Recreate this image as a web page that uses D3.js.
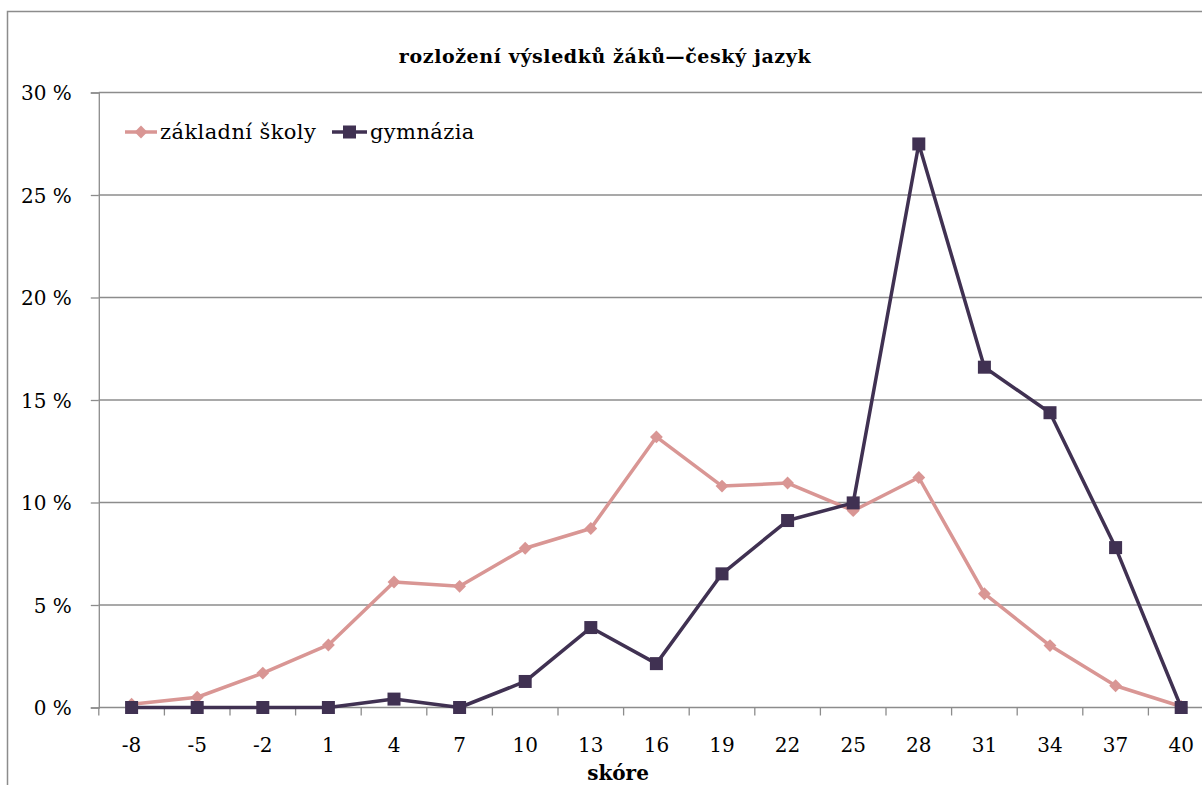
<!DOCTYPE html>
<html>
<head>
<meta charset="utf-8">
<script src="https://cdn.jsdelivr.net/npm/d3@7"></script>
<style>
  html, body { margin: 0; padding: 0; background: #fff; }
  svg { display: block; }
  svg text { font-family: "DejaVu Serif", "Liberation Serif", serif; fill: #000; }
</style>
</head>
<body>
<svg id="chart" width="1202" height="785"></svg>
<script>
// score categories on the x axis
const scores = ["-8", "-5", "-2", "1", "4", "7", "10", "13", "16", "19", "22", "25", "28", "31", "34", "37", "40"];
// share of pupils (%) per score band
const zakladniSkoly = [0.16, 0.5, 1.68, 3.05, 6.12, 5.91, 7.77, 8.73, 13.2, 10.8, 10.95, 9.6, 11.22, 5.55, 3.02, 1.06, 0.05];
const gymnazia = [0, 0, 0, 0, 0.41, 0, 1.27, 3.9, 2.14, 6.52, 9.12, 9.98, 27.49, 16.6, 14.38, 7.8, 0];
const yTicks = [0, 5, 10, 15, 20, 25, 30];

const seriesList = [
  { name: "základní školy", values: zakladniSkoly, color: "#d99694", marker: "diamond" },
  { name: "gymnázia", values: gymnazia, color: "#403152", marker: "square" }
];

const FONT = "'DejaVu Serif', 'Liberation Serif', serif";
const svg = d3.select("#chart");
const axisColor = "#8c8c8c";

// outer chart frame (runs past the right and bottom edges)
svg.append("rect")
  .attr("x", 7.5).attr("y", 11.5)
  .attr("width", 1260).attr("height", 820)
  .attr("fill", "#fff").attr("stroke", axisColor).attr("stroke-width", 1.5);

const plot = { left: 98.8, right: 1214, top: 92.5, bottom: 707.5 };

const x = d3.scaleBand().domain(scores).range([plot.left, plot.right]);
const y = d3.scaleLinear().domain([0, 30]).range([plot.bottom, plot.top]);

// horizontal gridlines
svg.append("g")
  .selectAll("line")
  .data(yTicks.filter(t => t > 0))
  .join("line")
  .attr("x1", plot.left).attr("x2", plot.right)
  .attr("y1", d => y(d)).attr("y2", d => y(d))
  .attr("stroke", axisColor).attr("stroke-width", 1.3);

// y axis
const yAxis = d3.axisLeft(y)
  .tickValues(yTicks)
  .tickSize(8)
  .tickPadding(19)
  .tickFormat(d => d + " %");
const gy = svg.append("g").attr("transform", `translate(${plot.left},0)`).call(yAxis)
  .attr("font-family", FONT).attr("font-size", 20);
gy.select(".domain").attr("stroke", axisColor).attr("stroke-width", 1.3);
gy.selectAll(".tick line").attr("stroke", axisColor).attr("stroke-width", 1.3);
gy.selectAll(".tick text")
  .attr("fill", "#000")
  .style("font-family", FONT)
  .style("font-size", "20px")
  .attr("dy", "0.36em");

// x axis: tick marks at band boundaries, labels at band centers
svg.append("line")
  .attr("x1", plot.left).attr("x2", plot.right)
  .attr("y1", plot.bottom).attr("y2", plot.bottom)
  .attr("stroke", axisColor).attr("stroke-width", 1.3);
svg.append("g")
  .selectAll("line")
  .data(scores.concat(["__end"]))
  .join("line")
  .attr("x1", (d, i) => plot.left + i * x.step())
  .attr("x2", (d, i) => plot.left + i * x.step())
  .attr("y1", plot.bottom).attr("y2", plot.bottom + 8)
  .attr("stroke", axisColor).attr("stroke-width", 1.3);
svg.append("g")
  .selectAll("text")
  .data(scores)
  .join("text")
  .attr("x", d => x(d) + x.bandwidth() / 2)
  .attr("y", 752)
  .attr("text-anchor", "middle")
  .style("font-family", FONT)
  .style("font-size", "20px")
  .text(d => d);

// axis title
svg.append("text")
  .attr("x", 618).attr("y", 780)
  .attr("text-anchor", "middle")
  .style("font-family", FONT)
  .style("font-size", "20px").style("font-weight", "bold")
  .text("skóre");

// chart title
svg.append("text")
  .attr("x", 605).attr("y", 63)
  .attr("text-anchor", "middle")
  .style("font-family", FONT)
  .style("font-size", "19px").style("font-weight", "bold")
  .style("letter-spacing", "0.6px")
  .text("rozložení výsledků žáků—český jazyk");

// series lines and markers
const cx = d => x(d) + x.bandwidth() / 2;
const line = d3.line()
  .x((v, i) => cx(scores[i]))
  .y(v => y(v));

const diamond = d3.symbol().type(d3.symbolDiamond2).size(105);

function drawMarker(g, kind, color, px, py) {
  if (kind === "square") {
    g.append("rect")
      .attr("x", px - 6.5).attr("y", py - 6.5)
      .attr("width", 13).attr("height", 13)
      .attr("fill", color);
  } else {
    g.append("path")
      .attr("d", diamond())
      .attr("transform", `translate(${px},${py})`)
      .attr("fill", color);
  }
}

seriesList.forEach(s => {
  const g = svg.append("g");
  g.append("path")
    .datum(s.values)
    .attr("d", line)
    .attr("fill", "none")
    .attr("stroke", s.color)
    .attr("stroke-width", 3.5)
    .attr("stroke-linejoin", "round");
  s.values.forEach((v, i) => drawMarker(g, s.marker, s.color, cx(scores[i]), y(v)));
});

// legend
const legendY = 132;
const legendItems = [
  { s: seriesList[0], x0: 125, x1: 157, tx: 160 },
  { s: seriesList[1], x0: 332, x1: 367, tx: 370 }
];
legendItems.forEach(it => {
  const g = svg.append("g");
  g.append("line")
    .attr("x1", it.x0).attr("x2", it.x1)
    .attr("y1", legendY).attr("y2", legendY)
    .attr("stroke", it.s.color).attr("stroke-width", 3.5);
  drawMarker(g, it.s.marker, it.s.color, (it.x0 + it.x1) / 2, legendY);
  g.append("text")
    .attr("x", it.tx).attr("y", legendY + 7)
    .style("font-family", FONT)
    .style("font-size", "21px")
    .style("letter-spacing", "0.4px")
    .text(it.s.name);
});
</script>
</body>
</html>
